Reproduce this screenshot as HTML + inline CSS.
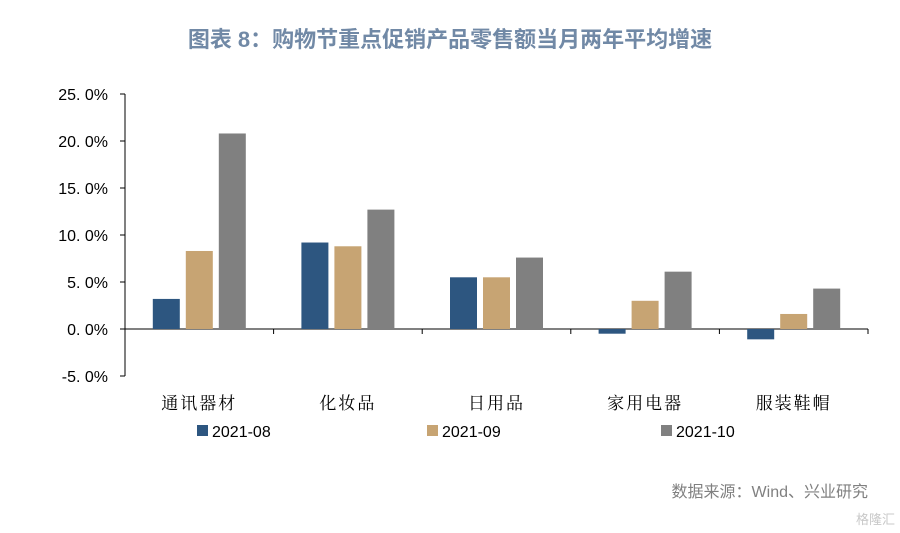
<!DOCTYPE html>
<html><head><meta charset="utf-8"><style>
body{margin:0;background:#fff;}
svg{display:block;font-family:"Liberation Sans","Noto Sans CJK SC",sans-serif;}
</style></head><body>
<svg id="chart" width="900" height="533" viewBox="0 0 900 533">
<text x="450" y="47" text-anchor="middle" font-size="22" font-weight="bold" fill="#7189a6">图表 8：购物节重点促销产品零售额当月两年平均增速</text>
<g id="axes"></g>
<g id="bars"></g>
<g id="legend"></g>
<text x="868" y="497" text-anchor="end" font-size="16" fill="#808080">数据来源：Wind、兴业研究</text>
<text x="895" y="524" text-anchor="end" font-size="13" fill="#c8c8c8">格隆汇</text>
</svg>
<script>
const categories=["通讯器材","化妆品","日用品","家用电器","服装鞋帽"];
const seriesNames=["2021-08","2021-09","2021-10"];
const s08=[3.2,9.2,5.5,-0.5,-1.1];
const s09=[8.3,8.8,5.5,3.0,1.6];
const s10=[20.8,12.7,7.6,6.1,4.3];
const yTicks=[-5,0,5,10,15,20,25];
const colors=["#2d5680","#c7a473","#808080"];
const series=[s08,s09,s10];
const NS="http://www.w3.org/2000/svg";
const x0=125,x1=868,yTop=94,yBot=376;
function y(v){return yBot-(v+5)/30*(yBot-yTop);}
const gw=(x1-x0)/categories.length;
function mk(tag,attrs,parent){const e=document.createElementNS(NS,tag);for(const k in attrs)e.setAttribute(k,attrs[k]);parent.appendChild(e);return e;}
const axes=document.getElementById('axes'),bars=document.getElementById('bars'),legend=document.getElementById('legend');
const ya=mk('line',{x1:x0,x2:x0,y1:yTop,y2:yBot,stroke:'#000','stroke-width':1},axes);


yTicks.forEach(t=>{
  const yy=y(t);
  mk('line',{x1:x0-5,x2:x0,y1:yy,y2:yy,stroke:'#000'},axes);
  const tx=mk('text',{x:x0-17,y:yy+6,'text-anchor':'end','font-size':16,fill:'#000'},axes);
  tx.textContent=t.toFixed(1).replace('.','. ')+'%';
  
  
});
const xa=mk('line',{x1:x0,x2:x1,y1:y(0),y2:y(0),stroke:'#000'},axes);


categories.forEach((c,i)=>{
  mk('line',{x1:x0+gw*(i+1),x2:x0+gw*(i+1),y1:y(0),y2:y(0)+5,stroke:'#000'},axes);
  const tx=mk('text',{x:x0+gw*(i+0.5),y:409,'text-anchor':'middle','font-size':17,'letter-spacing':2,fill:'#000','font-family':'"Liberation Serif","Noto Serif CJK SC",serif'},axes);
  tx.textContent=c;
  
  
});
const bw=27,gap=6;
series.forEach((s,k)=>{
  s.forEach((v,i)=>{
    const cx=x0+gw*(i+0.5)+(k-1)*(bw+gap);
    const top=Math.min(y(v),y(0)),h=Math.abs(y(v)-y(0));
    const r=mk('rect',{x:cx-bw/2,y:top,width:bw,height:h,fill:colors[k]},bars);
    
    
  });
});
const lx=[197,427,661];
seriesNames.forEach((n,k)=>{
  const g=mk('g',{},legend);
  
  
  mk('rect',{x:lx[k],y:425,width:11,height:11,fill:colors[k]},g);
  const t=mk('text',{x:lx[k]+15,y:437,'font-size':16,fill:'#000'},g);
  t.textContent=n;
});
</script>
</body></html>
